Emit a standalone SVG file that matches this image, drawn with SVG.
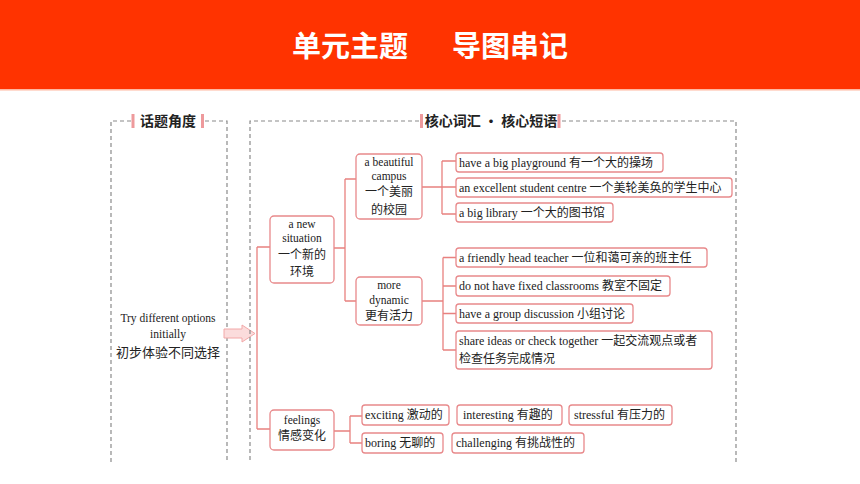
<svg xmlns="http://www.w3.org/2000/svg" width="860" height="484" viewBox="0 0 860 484">
<defs>
<style>
.dash{fill:none;stroke:#8a8a8a;stroke-width:1.2;stroke-dasharray:4 3}
.bar{fill:#EE9A9C}
.ttl{font-family:"Noto Sans CJK SC","Noto Sans",sans-serif;font-weight:bold;font-size:14px;fill:#222}
.box{fill:#fff;stroke:#E8898B;stroke-width:1.3}
.con{fill:none;stroke:#E8817F;stroke-width:1.3}
.t{font-family:"Liberation Serif","Noto Sans CJK SC",serif;font-size:12px;fill:#222}
.tc{font-family:"Liberation Serif","Noto Sans CJK SC",serif;font-size:11.5px;fill:#222;text-anchor:middle}
.cn{font-family:"Noto Sans CJK SC",sans-serif;font-size:12px}
.cl{font-family:"Noto Sans CJK SC",sans-serif;font-size:13px;fill:#222;text-anchor:middle}
</style>
</defs>
<rect width="860" height="484" fill="#fff"/>
<g id="header">
<rect x="0" y="0" width="860" height="89" fill="#FF3300"/>
<rect x="0" y="89" width="860" height="1.5" fill="#FFB8A0"/>
<text x="292" y="57" font-family="'Noto Sans CJK SC',sans-serif" font-weight="bold" font-size="29" fill="#fff">单元主题</text>
<text x="452" y="57" font-family="'Noto Sans CJK SC',sans-serif" font-weight="bold" font-size="29" fill="#fff">导图串记</text>
</g>
<g id="panel-left">
<path class="dash" d="M131,121 H111 V462 M205,121 H227 V462"/>
<rect class="bar" x="131.5" y="114" width="3" height="14"/>
<rect class="bar" x="201" y="114" width="3" height="14"/>
<text class="ttl" x="168" y="126" text-anchor="middle">话题角度</text>
<text class="tc" x="168" y="322" font-size="12">Try different options<tspan x="168" dy="16">initially</tspan></text>
<text class="cl" x="168" y="357">初步体验不同选择</text>
</g>
<g id="arrow">
<path d="M224,329 H242 V325 L255,333.5 L242,342 V338 H224 Z" fill="#FBDCDC" stroke="#F2A8A8" stroke-width="1"/>
</g>
<g id="panel-right">
<path class="dash" d="M419,121 H250 V462 M562,121 H736 V462"/>
<rect class="bar" x="420" y="114" width="3" height="14"/>
<rect class="bar" x="557.5" y="114" width="3" height="14"/>
<text class="ttl" x="491" y="126" text-anchor="middle">核心词汇 · 核心短语</text>
</g>
<g id="connectors">
<path class="con" d="M257,247 V429 M257,247 H270 M257,429 H270"/>
<path class="con" d="M334,248 H345 M345,179 V301 M345,179 H356 M345,301 H356"/>
<path class="con" d="M422,187 H442 M442,161 V214 M442,161 H456 M442,187 H456 M442,214 H456"/>
<path class="con" d="M422,301 H443 M443,257.5 V350 M443,257.5 H456 M443,286 H456 M443,313.5 H456 M443,350 H456"/>
<path class="con" d="M334,431 H350 M350,416 V443 M350,416 H362 M350,443 H362"/>
</g>
<g id="node-situation">
<rect class="box" x="270" y="216" width="64" height="67" rx="4"/>
<text class="tc" x="302" y="228">a new<tspan x="302" dy="14">situation</tspan><tspan class="cn" x="302" dy="16.5">一个新的</tspan><tspan class="cn" x="302" dy="17.5">环境</tspan></text>
</g>
<g id="node-campus">
<rect class="box" x="356" y="154" width="66" height="65" rx="4"/>
<text class="tc" x="389" y="165.5">a beautiful<tspan x="389" dy="14">campus</tspan><tspan class="cn" x="389" dy="16.5">一个美丽</tspan><tspan class="cn" x="389" dy="17.5">的校园</tspan></text>
</g>
<g id="node-dynamic">
<rect class="box" x="356" y="277" width="66" height="48" rx="4"/>
<text class="tc" x="389" y="289">more<tspan x="389" dy="15">dynamic</tspan><tspan class="cn" x="389" dy="16">更有活力</tspan></text>
</g>
<g id="node-feelings">
<rect class="box" x="270" y="410" width="64" height="40" rx="4"/>
<text class="tc" x="302" y="424">feelings<tspan class="cn" x="302" dy="16">情感变化</tspan></text>
</g>
<g id="leaf-playground">
<rect class="box" x="456" y="153" width="207" height="19" rx="3"/>
<text class="t" x="459" y="166.5">have a big playground 有一个大的操场</text>
</g>
<g id="leaf-centre">
<rect class="box" x="456" y="178" width="276" height="19" rx="3"/>
<text class="t" x="459" y="191.5">an excellent student centre 一个美轮美奂的学生中心</text>
</g>
<g id="leaf-library">
<rect class="box" x="456" y="203" width="157" height="19" rx="3"/>
<text class="t" x="459" y="216.5">a big library 一个大的图书馆</text>
</g>
<g id="leaf-teacher">
<rect class="box" x="456" y="248" width="251" height="19" rx="3"/>
<text class="t" x="459" y="261.5">a friendly head teacher 一位和蔼可亲的班主任</text>
</g>
<g id="leaf-classrooms">
<rect class="box" x="456" y="276" width="214" height="20" rx="3"/>
<text class="t" x="459" y="290">do not have fixed classrooms 教室不固定</text>
</g>
<g id="leaf-discussion">
<rect class="box" x="456" y="304" width="177" height="19" rx="3"/>
<text class="t" x="459" y="317.5">have a group discussion 小组讨论</text>
</g>
<g id="leaf-share">
<rect class="box" x="456" y="331" width="256" height="38" rx="3"/>
<text class="t" x="459" y="345">share ideas or check together 一起交流观点或者<tspan x="459" dy="18">检查任务完成情况</tspan></text>
</g>
<g id="leaf-exciting">
<rect class="box" x="362" y="405" width="87" height="20" rx="3"/>
<text class="t" x="365" y="419">exciting 激动的</text>
</g>
<g id="leaf-interesting">
<rect class="box" x="457" y="405" width="105" height="20" rx="3"/>
<text class="t" x="463" y="419">interesting 有趣的</text>
</g>
<g id="leaf-stressful">
<rect class="box" x="569" y="405" width="103" height="20" rx="3"/>
<text class="t" x="574" y="419">stressful 有压力的</text>
</g>
<g id="leaf-boring">
<rect class="box" x="362" y="433" width="81" height="20" rx="3"/>
<text class="t" x="365" y="447">boring 无聊的</text>
</g>
<g id="leaf-challenging">
<rect class="box" x="452" y="433" width="132" height="20" rx="3"/>
<text class="t" x="456" y="447">challenging 有挑战性的</text>
</g>
</svg>
